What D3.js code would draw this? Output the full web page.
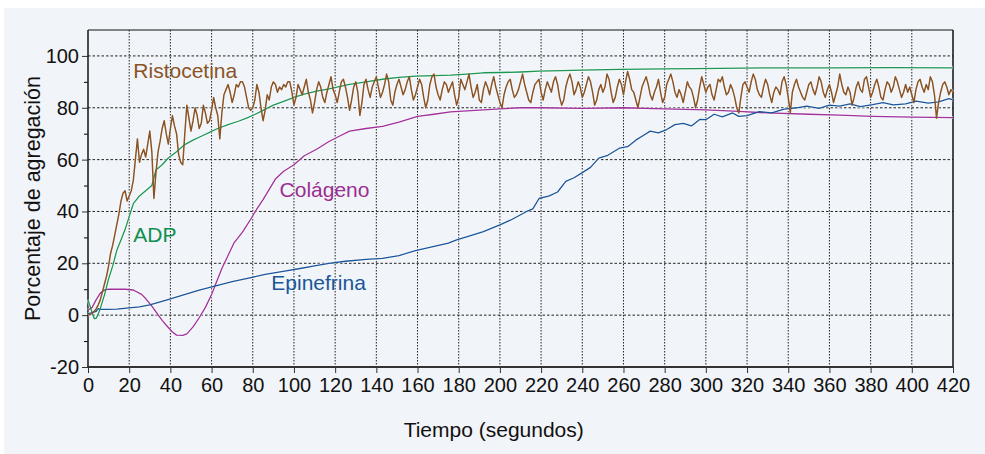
<!DOCTYPE html>
<html>
<head>
<meta charset="utf-8">
<script src="https://cdn.jsdelivr.net/npm/d3@7/dist/d3.min.js"></script>
<style>
    body { margin: 0; background: #fff; }
    svg text { font-family: "Liberation Sans", Arial, Helvetica, sans-serif; }
</style>
</head>
<body>
<div id="chart"></div>
<script>
// ---- data ----
var xTickValues = [0, 20, 40, 60, 80, 100, 120, 140, 160, 180, 200, 220, 240, 260, 280, 300, 320, 340, 360, 380, 400, 420];
var yTickValues = [-20, 0, 20, 40, 60, 80, 100];
var yMinorTicks = [-10, 10, 30, 50, 70, 90];

var xTitle = "Tiempo (segundos)";
var yTitle = "Porcentaje de agregación";

// Ristocetina, one sample per second from 0 to 420 (rows of 20 s)
var ristoStep = 1;
var ristoValues = [
    0, 0.3, 0.6, 1.5, 2.5, 4, 6, 9, 12, 15, 19, 24, 27, 31, 35, 39, 44, 47, 48, 44,
    46, 48, 52, 60, 68, 59, 62, 64, 61, 66, 71, 63, 45, 55, 63, 67, 72, 75, 70, 66,
    72, 77, 73, 70, 62, 59, 58, 70, 81, 76, 71, 75, 80, 77, 72, 74, 81, 78, 74, 75,
    79, 84, 80, 77, 68, 78, 85, 87, 89, 86, 82, 85, 89, 88, 90, 90, 88, 84, 80, 79,
    80, 83, 89, 86, 80, 75, 79, 85, 83, 88, 90, 89, 86, 88, 87, 89, 88, 90, 90, 86,
    81, 84, 89, 87, 85, 88, 91, 86, 83, 78, 82, 87, 90, 88, 84, 82, 86, 89, 92, 87,
    85, 82, 86, 90, 91, 88, 84, 79, 83, 88, 90, 86, 77, 82, 89, 91, 87, 84, 88, 90,
    92, 88, 84, 86, 89, 93, 90, 83, 81, 86, 89, 91, 88, 85, 87, 90, 92, 87, 83, 85,
    88, 91, 89, 84, 80, 83, 89, 92, 93, 88, 85, 83, 87, 90, 89, 86, 88, 90, 85, 81,
    84, 91, 89, 87, 90, 93, 88, 84, 86, 89, 83, 82, 87, 90, 88, 85, 89, 92, 88, 85,
    82, 80, 85, 88, 90, 91, 87, 84, 85, 87, 90, 93, 89, 86, 83, 82, 86, 89, 90, 91,
    86, 83, 87, 90, 88, 86, 90, 92, 89, 84, 81, 83, 88, 91, 93, 90, 85, 87, 90, 88,
    84, 86, 89, 92, 90, 86, 81, 83, 87, 89, 86, 88, 93, 91, 86, 82, 84, 88, 91, 89,
    85, 90, 94, 91, 87, 86, 83, 80, 84, 88, 90, 92, 89, 85, 83, 86, 88, 91, 86, 82,
    84, 89, 91, 93, 90, 86, 84, 87, 85, 82, 86, 90, 88, 87, 84, 80, 83, 88, 92, 89,
    86, 88, 89, 85, 83, 87, 91, 90, 92, 88, 85, 86, 89, 87, 84, 80, 78, 84, 89, 90,
    88, 86, 90, 93, 91, 87, 85, 84, 88, 91, 89, 85, 82, 86, 88, 87, 85, 90, 92, 89,
    84, 78, 86, 89, 91, 88, 86, 84, 83, 86, 89, 90, 87, 85, 88, 92, 90, 86, 84, 87,
    89, 86, 82, 85, 88, 93, 89, 86, 85, 88, 86, 81, 84, 88, 90, 87, 86, 91, 92, 88,
    84, 86, 89, 91, 88, 84, 83, 87, 90, 89, 86, 88, 92, 90, 87, 84, 86, 89, 86, 88,
    85, 82, 87, 90, 91, 88, 86, 89, 87, 92, 90, 85, 76, 82, 86, 89, 90, 88, 85, 87,
    86
];

var adpTimes = [0, 1, 2, 3, 4, 5, 6, 8, 10, 12, 14, 16, 18, 20, 22, 25, 28, 31, 33, 36, 39, 43, 47, 51, 55, 59, 63, 68, 73, 77, 81, 85, 90, 95, 100, 105, 111, 117, 127, 135, 143, 151, 159, 168, 176, 184, 192, 200, 210, 219, 230, 240, 258, 280, 307, 330, 360, 390, 420];
var adpValues = [6, 3.5, 1, -1.3, -1.2, 0.5, 2.6, 7.8, 14, 19, 25, 29, 33, 38, 43, 46, 48, 50, 56, 58, 60.6, 63, 65.8, 67.5, 69, 70.5, 72, 73.5, 74.8, 76, 77.4, 79, 81, 82.5, 84, 85.3, 86.4, 87.3, 89, 90, 91, 91.7, 92.2, 92.4, 92.6, 93, 93.5, 93.6, 93.8, 94.1, 94.3, 94.5, 94.8, 95, 95.2, 95.4, 95.4, 95.5, 95.4];

var colaTimes = [0, 2, 4, 6, 8, 10, 14, 18, 22, 26, 28, 31, 33, 36, 38, 41, 43, 46, 48, 51, 54, 57, 60, 62, 65, 68, 71, 75, 79, 82, 85, 88, 91, 95, 100, 105, 111, 117, 122, 127, 135, 143, 151, 160, 168, 176, 184, 192, 200, 210, 220, 240, 260, 280, 300, 316, 330, 350, 365, 381, 400, 420];
var colaValues = [1.9, 3, 6, 8.5, 9.7, 10, 10, 10, 9.7, 8, 6.4, 3.5, 1.3, -2, -3.9, -6.5, -7.7, -7.8, -7.2, -4.5, -1, 3, 8, 12, 18, 23, 28, 32, 37, 41, 44.6, 48.5, 52.5, 55.5, 58, 61.5, 64, 67, 69, 71, 72, 72.8, 74.5, 76.7, 77.5, 78.4, 78.8, 79.2, 79.6, 80, 80, 79.8, 80, 79.6, 79.2, 78.6, 78, 77.5, 77.2, 76.7, 76.4, 76.2];

var epiTimes = [0, 2, 4, 5, 6, 10, 14, 20, 25, 30, 38, 46, 54, 62, 70, 78, 86, 94, 103, 110, 117, 125, 135, 143, 151, 159, 167, 175, 179, 185, 192, 200, 206, 213, 216, 219, 224, 228, 232, 236, 240, 244, 248, 252, 258, 262, 266, 270, 273, 277, 281, 285, 289, 293, 297, 300, 304, 308, 313, 316, 320, 326, 332, 338, 344, 349, 355, 360, 365, 370, 375, 381, 386, 391, 397, 402, 408, 413, 418, 420];
var epiValues = [0.5, 1, 1.5, 2.5, 2.2, 2.2, 2.3, 2.8, 3.2, 4, 5.8, 7.7, 9.7, 11.3, 12.9, 14.3, 15.7, 16.8, 18, 19, 20, 20.8, 21.5, 21.9, 23, 24.9, 26.3, 27.8, 29, 30.5, 32.2, 34.8, 37, 40, 41, 45, 46, 47.5, 51.6, 53, 55, 57, 60.6, 61.5, 64.4, 65, 67.5, 69.5, 71, 70.3, 71.6, 73.5, 74, 73, 75.5, 75.4, 77.5, 76.5, 78, 76.7, 77, 78.5, 78, 79.5, 80, 80.6, 79.8, 81, 80.6, 81.5, 80.4, 81.2, 82, 81.1, 81.5, 82.6, 81.8, 82.3, 83.5, 83];

var seriesNames = ["Colágeno", "Epinefrina", "ADP", "Ristocetina"];
var seriesColors = ["#a0309c", "#1a559b", "#1b9653", "#8a5426"];
var labelColors = ["#9b2e92", "#1a5796", "#0f8f4f", "#8a5426"];
// label anchor points in data units (time, percent)
var labelTimes = [93, 89, 22, 22];
var labelValues = [45.6, 9.6, 28.4, 91.6];

// ---- layout ----
var width = 985;
var height = 454;
var margin = { left: 88, right: 32, top: 30, bottom: 87 };
var plotW = width - margin.left - margin.right;
var plotH = height - margin.top - margin.bottom;

var svg = d3.select('#chart')
    .append('svg')
    .attr('width', width)
    .attr('height', height);

// panel background
svg.append('rect')
    .attr('x', 4)
    .attr('y', 8)
    .attr('width', width - 4)
    .attr('height', height - 8)
    .attr('fill', '#f1f4f8');

var x = d3.scaleLinear().domain([0, 420]).range([margin.left, margin.left + plotW]);
var y = d3.scaleLinear().domain([-20, 110]).range([margin.top + plotH, margin.top]);

// grid
svg.append('g')
    .selectAll('line')
    .data(xTickValues.filter(function (d) { return d > 0 && d < 420; }))
    .enter().append('line')
    .attr('x1', d => x(d)).attr('x2', d => x(d))
    .attr('y1', y(110)).attr('y2', y(-20))
    .attr('stroke', '#222')
    .attr('stroke-width', 1)
    .attr('stroke-dasharray', '1.5,1.5');

svg.append('g')
    .selectAll('line')
    .data(yTickValues.filter(function (d) { return d > -20; }))
    .enter().append('line')
    .attr('x1', x(0)).attr('x2', x(420))
    .attr('y1', d => y(d)).attr('y2', d => y(d))
    .attr('stroke', '#222')
    .attr('stroke-width', 1)
    .attr('stroke-dasharray', '2.5,2');

// axes (plain hyphen for negatives, like the original)
var plainFormat = function (d) { return String(d); };

var xAxis = svg.append('g')
    .attr('transform', 'translate(0,' + y(-20) + ')')
    .call(d3.axisBottom(x).tickValues(xTickValues).tickSize(6).tickPadding(5).tickFormat(plainFormat));

var yAxis = svg.append('g')
    .attr('transform', 'translate(' + x(0) + ',0)')
    .call(d3.axisLeft(y).tickValues(yTickValues).tickSize(6).tickPadding(3).tickFormat(plainFormat));

svg.append('g')
    .attr('transform', 'translate(' + x(0) + ',0)')
    .call(d3.axisLeft(y).tickValues(yMinorTicks).tickSize(4).tickFormat(''))
    .select('.domain').remove();

[xAxis, yAxis].forEach(function (ax) {
    ax.select('.domain').remove();
    ax.selectAll('.tick line').attr('stroke', '#333');
    ax.selectAll('.tick text')
        .attr('fill', '#111')
        .style('font-size', '20px');
});

// frame
svg.append('line')
    .attr('x1', x(0)).attr('x2', x(420)).attr('y1', y(110)).attr('y2', y(110))
    .attr('stroke', '#111').attr('stroke-width', 1.2);
svg.append('line')
    .attr('x1', x(420)).attr('x2', x(420)).attr('y1', y(110)).attr('y2', y(-20))
    .attr('stroke', '#111').attr('stroke-width', 1.5);
svg.append('line')
    .attr('x1', x(0)).attr('x2', x(0)).attr('y1', y(110)).attr('y2', y(-20))
    .attr('stroke', '#222').attr('stroke-width', 1.6);
svg.append('line')
    .attr('x1', x(0) - 1).attr('x2', x(420) + 1).attr('y1', y(-20)).attr('y2', y(-20))
    .attr('stroke', '#333').attr('stroke-width', 2);

// series
function makePoints(times, values) {
    return values.map(function (v, i) {
        return { t: times[i], v: v };
    });
}

var ristoTimes = ristoValues.map(function (v, i) { return i * ristoStep; });

var seriesData = [
    makePoints(colaTimes, colaValues),
    makePoints(epiTimes, epiValues),
    makePoints(adpTimes, adpValues),
    makePoints(ristoTimes, ristoValues)
];

var line = d3.line()
    .x(d => x(d.t))
    .y(d => y(d.v));

var lines = svg.append('g');

// soft light halo like the printed figure
lines.selectAll('.halo')
    .data(seriesData)
    .enter().append('path')
    .attr('class', 'halo')
    .attr('d', line)
    .attr('fill', 'none')
    .attr('stroke', '#ffffff')
    .attr('stroke-opacity', 0.55)
    .attr('stroke-width', 3)
    .attr('stroke-linejoin', 'round');

lines.selectAll('.serie')
    .data(seriesData)
    .enter().append('path')
    .attr('class', 'serie')
    .attr('d', line)
    .attr('fill', 'none')
    .attr('stroke', (d, i) => seriesColors[i])
    .attr('stroke-width', (d, i) => i === 3 ? 1.5 : 1.3)
    .attr('stroke-linejoin', 'round');

// series labels
svg.append('g')
    .selectAll('text')
    .data(seriesNames)
    .enter().append('text')
    .attr('x', (d, i) => x(labelTimes[i]))
    .attr('y', (d, i) => y(labelValues[i]))
    .attr('fill', (d, i) => labelColors[i])
    .style('font-size', '21px')
    .text(d => d);

// axis titles
svg.append('text')
    .attr('x', x(197))
    .attr('y', 437)
    .attr('text-anchor', 'middle')
    .attr('fill', '#111')
    .style('font-size', '21px')
    .text(xTitle);

svg.append('text')
    .attr('transform', 'translate(40,' + y(45) + ') rotate(-90)')
    .attr('text-anchor', 'middle')
    .attr('fill', '#111')
    .style('font-size', '21.5px')
    .text(yTitle);
</script>
</body>
</html>
